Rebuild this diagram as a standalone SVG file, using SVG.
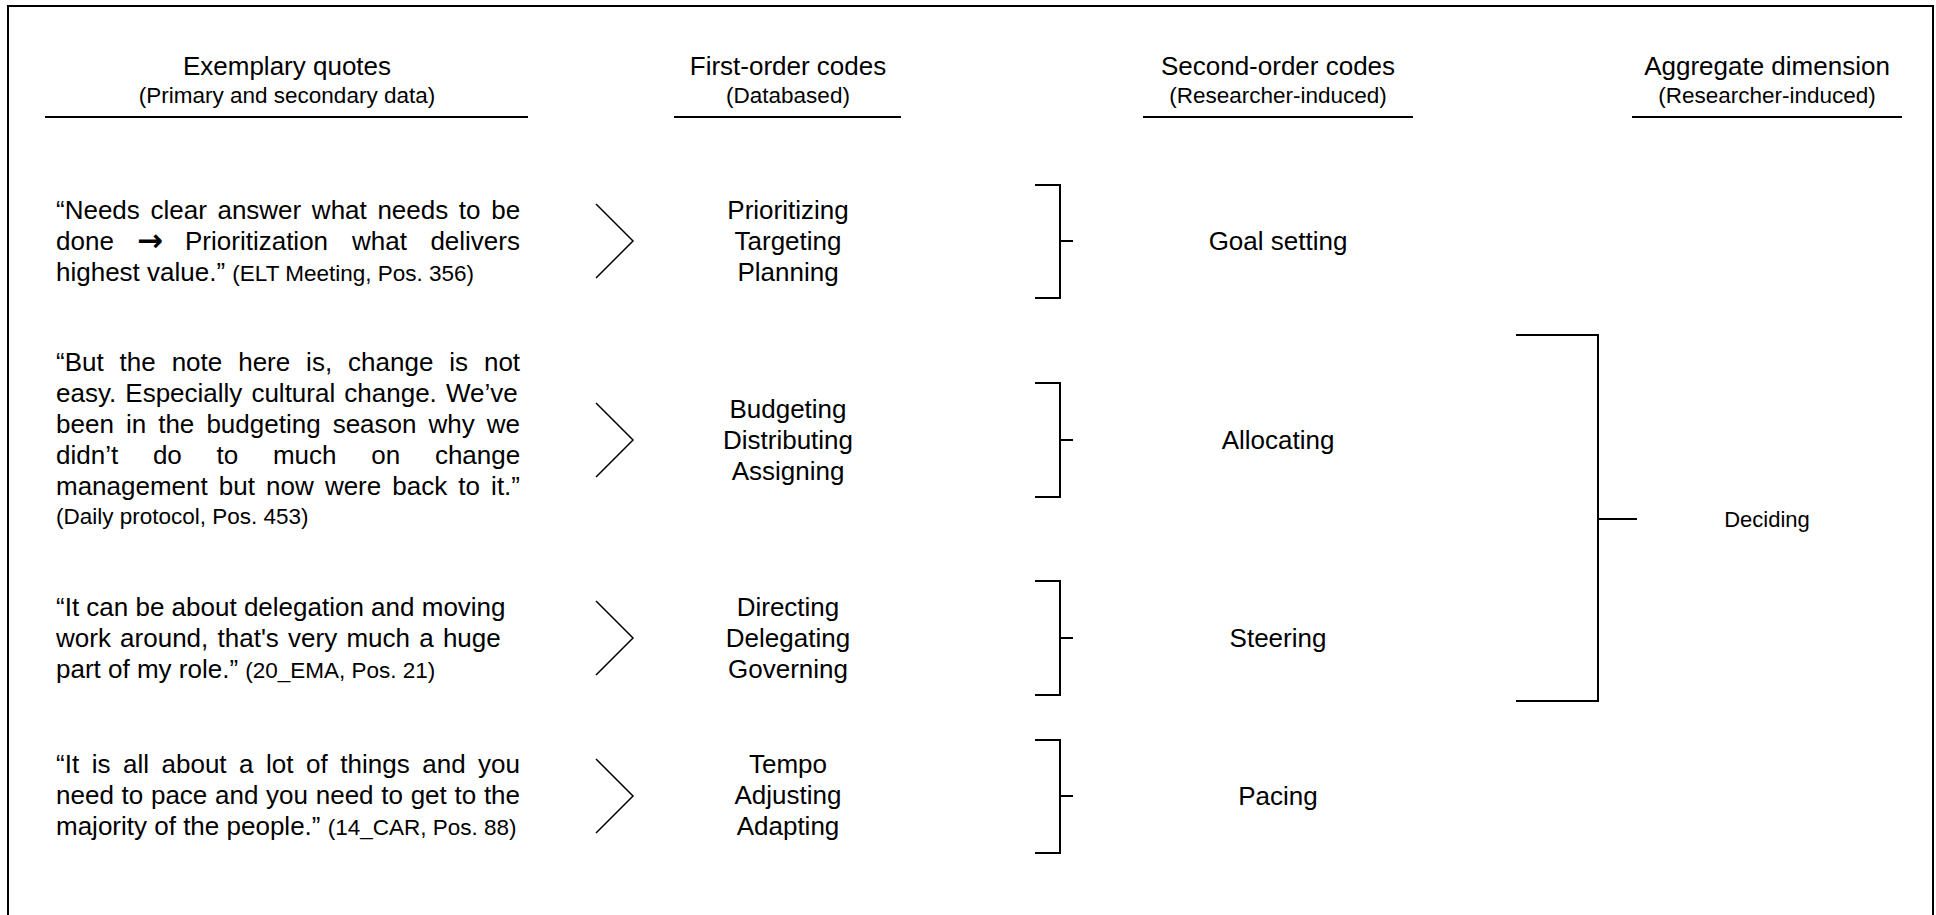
<svg xmlns="http://www.w3.org/2000/svg" width="1936" height="915" viewBox="0 0 1936 915">
  <style>
    text { font-family: "Liberation Sans", Arial, sans-serif; fill: #000; }
    .h { font-size: 26px; text-anchor: middle; }
    .sub { font-size: 22.5px; text-anchor: middle; }
    .q { font-size: 26px; }
    .cite { font-size: 22.5px; }
    .arrow { font-family: "DejaVu Sans", sans-serif; font-weight: bold; font-size: 31px; text-anchor: middle; }
    .code { font-size: 26px; text-anchor: middle; }
    .agg { font-size: 22px; text-anchor: middle; }
    .rule { stroke: #000; stroke-width: 2; fill: none; }
    .chev { stroke: #000; stroke-width: 1.5; fill: none; }
    .brk { stroke: #000; stroke-width: 2; fill: none; }
  </style>

  <!-- outer frame (open at the bottom edge of the canvas) -->
  <rect x="8" y="6" width="1925" height="960" fill="#fff" stroke="#000" stroke-width="2"/>

  <!-- column headers -->
  <g id="header-quotes">
    <text class="h" x="287" y="75">Exemplary quotes</text>
    <text class="sub" x="287" y="103">(Primary and secondary data)</text>
    <line class="rule" x1="45" y1="117" x2="528" y2="117"/>
  </g>
  <g id="header-first">
    <text class="h" x="788" y="75">First-order codes</text>
    <text class="sub" x="788" y="103">(Databased)</text>
    <line class="rule" x1="674" y1="117" x2="901" y2="117"/>
  </g>
  <g id="header-second">
    <text class="h" x="1278" y="75">Second-order codes</text>
    <text class="sub" x="1278" y="103">(Researcher-induced)</text>
    <line class="rule" x1="1143" y1="117" x2="1413" y2="117"/>
  </g>
  <g id="header-aggregate">
    <text class="h" x="1767" y="75">Aggregate dimension</text>
    <text class="sub" x="1767" y="103">(Researcher-induced)</text>
    <line class="rule" x1="1632" y1="117" x2="1902" y2="117"/>
  </g>

  <!-- exemplary quotes (justified lines use word-spacing or placed words) -->
  <g id="quote-1">
    <text class="q" x="56" y="219" word-spacing="3.4">“Needs clear answer what needs to be</text>
    <text class="q" y="250"><tspan x="56">done</tspan><tspan class="arrow" x="150" dy="1">→</tspan><tspan x="185" dy="-1">Prioritization</tspan><tspan x="352">what</tspan><tspan x="430.4">delivers</tspan></text>
    <text class="q" x="56" y="281">highest value.” <tspan class="cite">(ELT Meeting, Pos. 356)</tspan></text>
  </g>
  <g id="quote-2">
    <text class="q" x="56" y="371" word-spacing="8.69">“But the note here is, change is not</text>
    <text class="q" x="56" y="402" word-spacing="1.85">easy. Especially cultural change. We’ve</text>
    <text class="q" x="56" y="433" word-spacing="4.83">been in the budgeting season why we</text>
    <text class="q" x="56" y="464" word-spacing="27.5">didn’t do to much on change</text>
    <text class="q" x="56" y="495" word-spacing="3.87">management but now were back to it.”</text>
    <text class="cite" x="56" y="524">(Daily protocol, Pos. 453)</text>
  </g>
  <g id="quote-3">
    <text class="q" x="56" y="616">“It can be about delegation and moving</text>
    <text class="q" x="56" y="647" word-spacing="2">work around, that's very much a huge</text>
    <text class="q" x="56" y="678">part of my role.” <tspan class="cite">(20_EMA, Pos. 21)</tspan></text>
  </g>
  <g id="quote-4">
    <text class="q" x="56" y="773" word-spacing="5.31">“It is all about a lot of things and you</text>
    <text class="q" x="56" y="804" word-spacing="0.48">need to pace and you need to get to the</text>
    <text class="q" x="56" y="835">majority of the people.” <tspan class="cite">(14_CAR, Pos. 88)</tspan></text>
  </g>

  <!-- first-order codes -->
  <g id="codes-1">
    <text class="code" x="788" y="219">Prioritizing</text>
    <text class="code" x="788" y="250">Targeting</text>
    <text class="code" x="788" y="281">Planning</text>
  </g>
  <g id="codes-2">
    <text class="code" x="788" y="418">Budgeting</text>
    <text class="code" x="788" y="449">Distributing</text>
    <text class="code" x="788" y="480">Assigning</text>
  </g>
  <g id="codes-3">
    <text class="code" x="788" y="616">Directing</text>
    <text class="code" x="788" y="647">Delegating</text>
    <text class="code" x="788" y="678">Governing</text>
  </g>
  <g id="codes-4">
    <text class="code" x="788" y="773">Tempo</text>
    <text class="code" x="788" y="804">Adjusting</text>
    <text class="code" x="788" y="835">Adapting</text>
  </g>

  <!-- second-order codes -->
  <g id="theme-goal-setting"><text class="code" x="1278" y="250">Goal setting</text></g>
  <g id="theme-allocating"><text class="code" x="1278" y="449">Allocating</text></g>
  <g id="theme-steering"><text class="code" x="1278" y="647">Steering</text></g>
  <g id="theme-pacing"><text class="code" x="1278" y="805">Pacing</text></g>

  <!-- aggregate dimension -->
  <g id="dimension-deciding"><text class="agg" x="1767" y="527">Deciding</text></g>

  <!-- connectors: chevrons and brackets -->
  <g id="connectors">
    <polyline class="chev" points="596,204 633,241 596,278"/>
    <polyline class="chev" points="596,403 633,440 596,477"/>
    <polyline class="chev" points="596,601 633,638 596,675"/>
    <polyline class="chev" points="596,759 633,796 596,833"/>

    <path class="brk" d="M1035,185 H1060 V298 H1035 M1060,241 H1073"/>
    <path class="brk" d="M1035,383 H1060 V497 H1035 M1060,440 H1073"/>
    <path class="brk" d="M1035,581 H1060 V695 H1035 M1060,638 H1073"/>
    <path class="brk" d="M1035,740 H1060 V853 H1035 M1060,796 H1073"/>

    <path class="brk" d="M1516,335 H1598 V701 H1516 M1598,519 H1637"/>
  </g>
</svg>
